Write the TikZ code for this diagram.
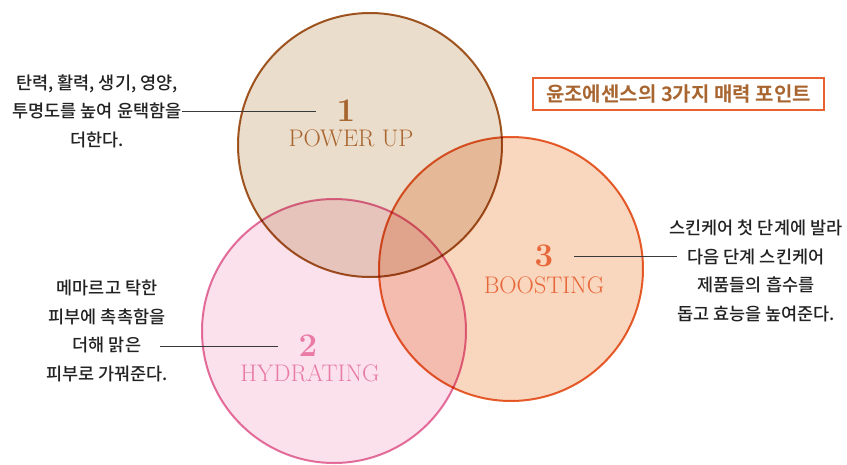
\documentclass[tikz,border=0pt]{standalone}
\usepackage{fontspec}
\newfontfamily\kofont{Noto Sans CJK KR Medium}[BoldFont={Noto Sans CJK KR Bold}]
\usepackage{tikz}

\definecolor{brownline}{HTML}{A65A24}
\definecolor{brownfill}{HTML}{EBDDCB}
\definecolor{browntext}{HTML}{A8652F}
\definecolor{pinkline}{HTML}{E6739F}
\definecolor{pinkfill}{HTML}{FAE1EC}
\definecolor{pinktext}{HTML}{E97BA5}
\definecolor{orangeline}{HTML}{E8622F}
\definecolor{orangefill}{HTML}{F9D6BE}
\definecolor{orangetext}{HTML}{E8673A}
\definecolor{leadergray}{HTML}{3A3A3A}
\definecolor{bodytext}{HTML}{222222}

\begin{document}
\begin{tikzpicture}[x=1pt,y=-1pt,
        ring/.style={circle,minimum size=264pt,line width=2pt,inner sep=0pt},
        numtxt/.style={font=\fontsize{33}{33}\selectfont\bfseries,inner sep=0pt},
        nametxt/.style={font=\fontsize{24}{24}\selectfont,inner sep=0pt},
        kotxt/.style={font=\kofont\fontsize{17.5}{28.5}\selectfont,align=center,inner sep=0pt,text=bodytext},
        leader/.style={draw=leadergray,line width=1pt}]
        \useasboundingbox (0,0) rectangle (847,464);

        % the three circles, mixed like ink
        \begin{scope}[blend group=multiply]
        \foreach \n/\pos/\col in {2/{334,331}/pink, 1/{370,145}/brown, 3/{511,269}/orange}
            \node[ring,draw=\col line,fill=\col fill] (c\n) at (\pos) {};
        \end{scope}

        \node[numtxt,text=browntext] (n1) at (346,111) {1};
        \node[nametxt,text=browntext] (p1) at (351,138) {POWER UP};
        \node[numtxt,text=pinktext] (n2) at (308,346) {2};
        \node[nametxt,text=pinktext] (p2) at (310,373) {HYDRATING};
        \node[numtxt,text=orangetext] (n3) at (544,256) {3};
        \node[nametxt,text=orangetext] (p3) at (544,285) {BOOSTING};

        \node[kotxt] (t1) at (97,111) {탄력, 활력, 생기, 영양,\\투명도를 높여 윤택함을\\더한다.};
        \node[kotxt] (t2) at (107,331) {메마르고 탁한\\피부에 촉촉함을\\더해 맑은\\피부로 가꿔준다.};
        \node[kotxt] (t3) at (756,271) {스킨케어 첫 단계에 발라\\다음 단계 스킨케어\\제품들의 흡수를\\돕고 효능을 높여준다.};

        \coordinate (s2) at (160,346);
        \coordinate (e3) at (677,256);
        \draw[leader,shorten <=21pt] (n1.west) -- (n1.west -| t1.east);
        \draw[leader,shorten <=21pt] (n2.west) -- (s2);
        \draw[leader,shorten <=21pt] (n3.east) -- (e3);

        \node[draw=orangeline,line width=1.2pt,minimum width=291pt,minimum height=32pt,
            font=\kofont\fontsize{20}{20}\selectfont\bfseries,text=browntext] (title) at (678.5,94)
            {윤조에센스의 3가지 매력 포인트};
    \end{tikzpicture}
\end{document}
